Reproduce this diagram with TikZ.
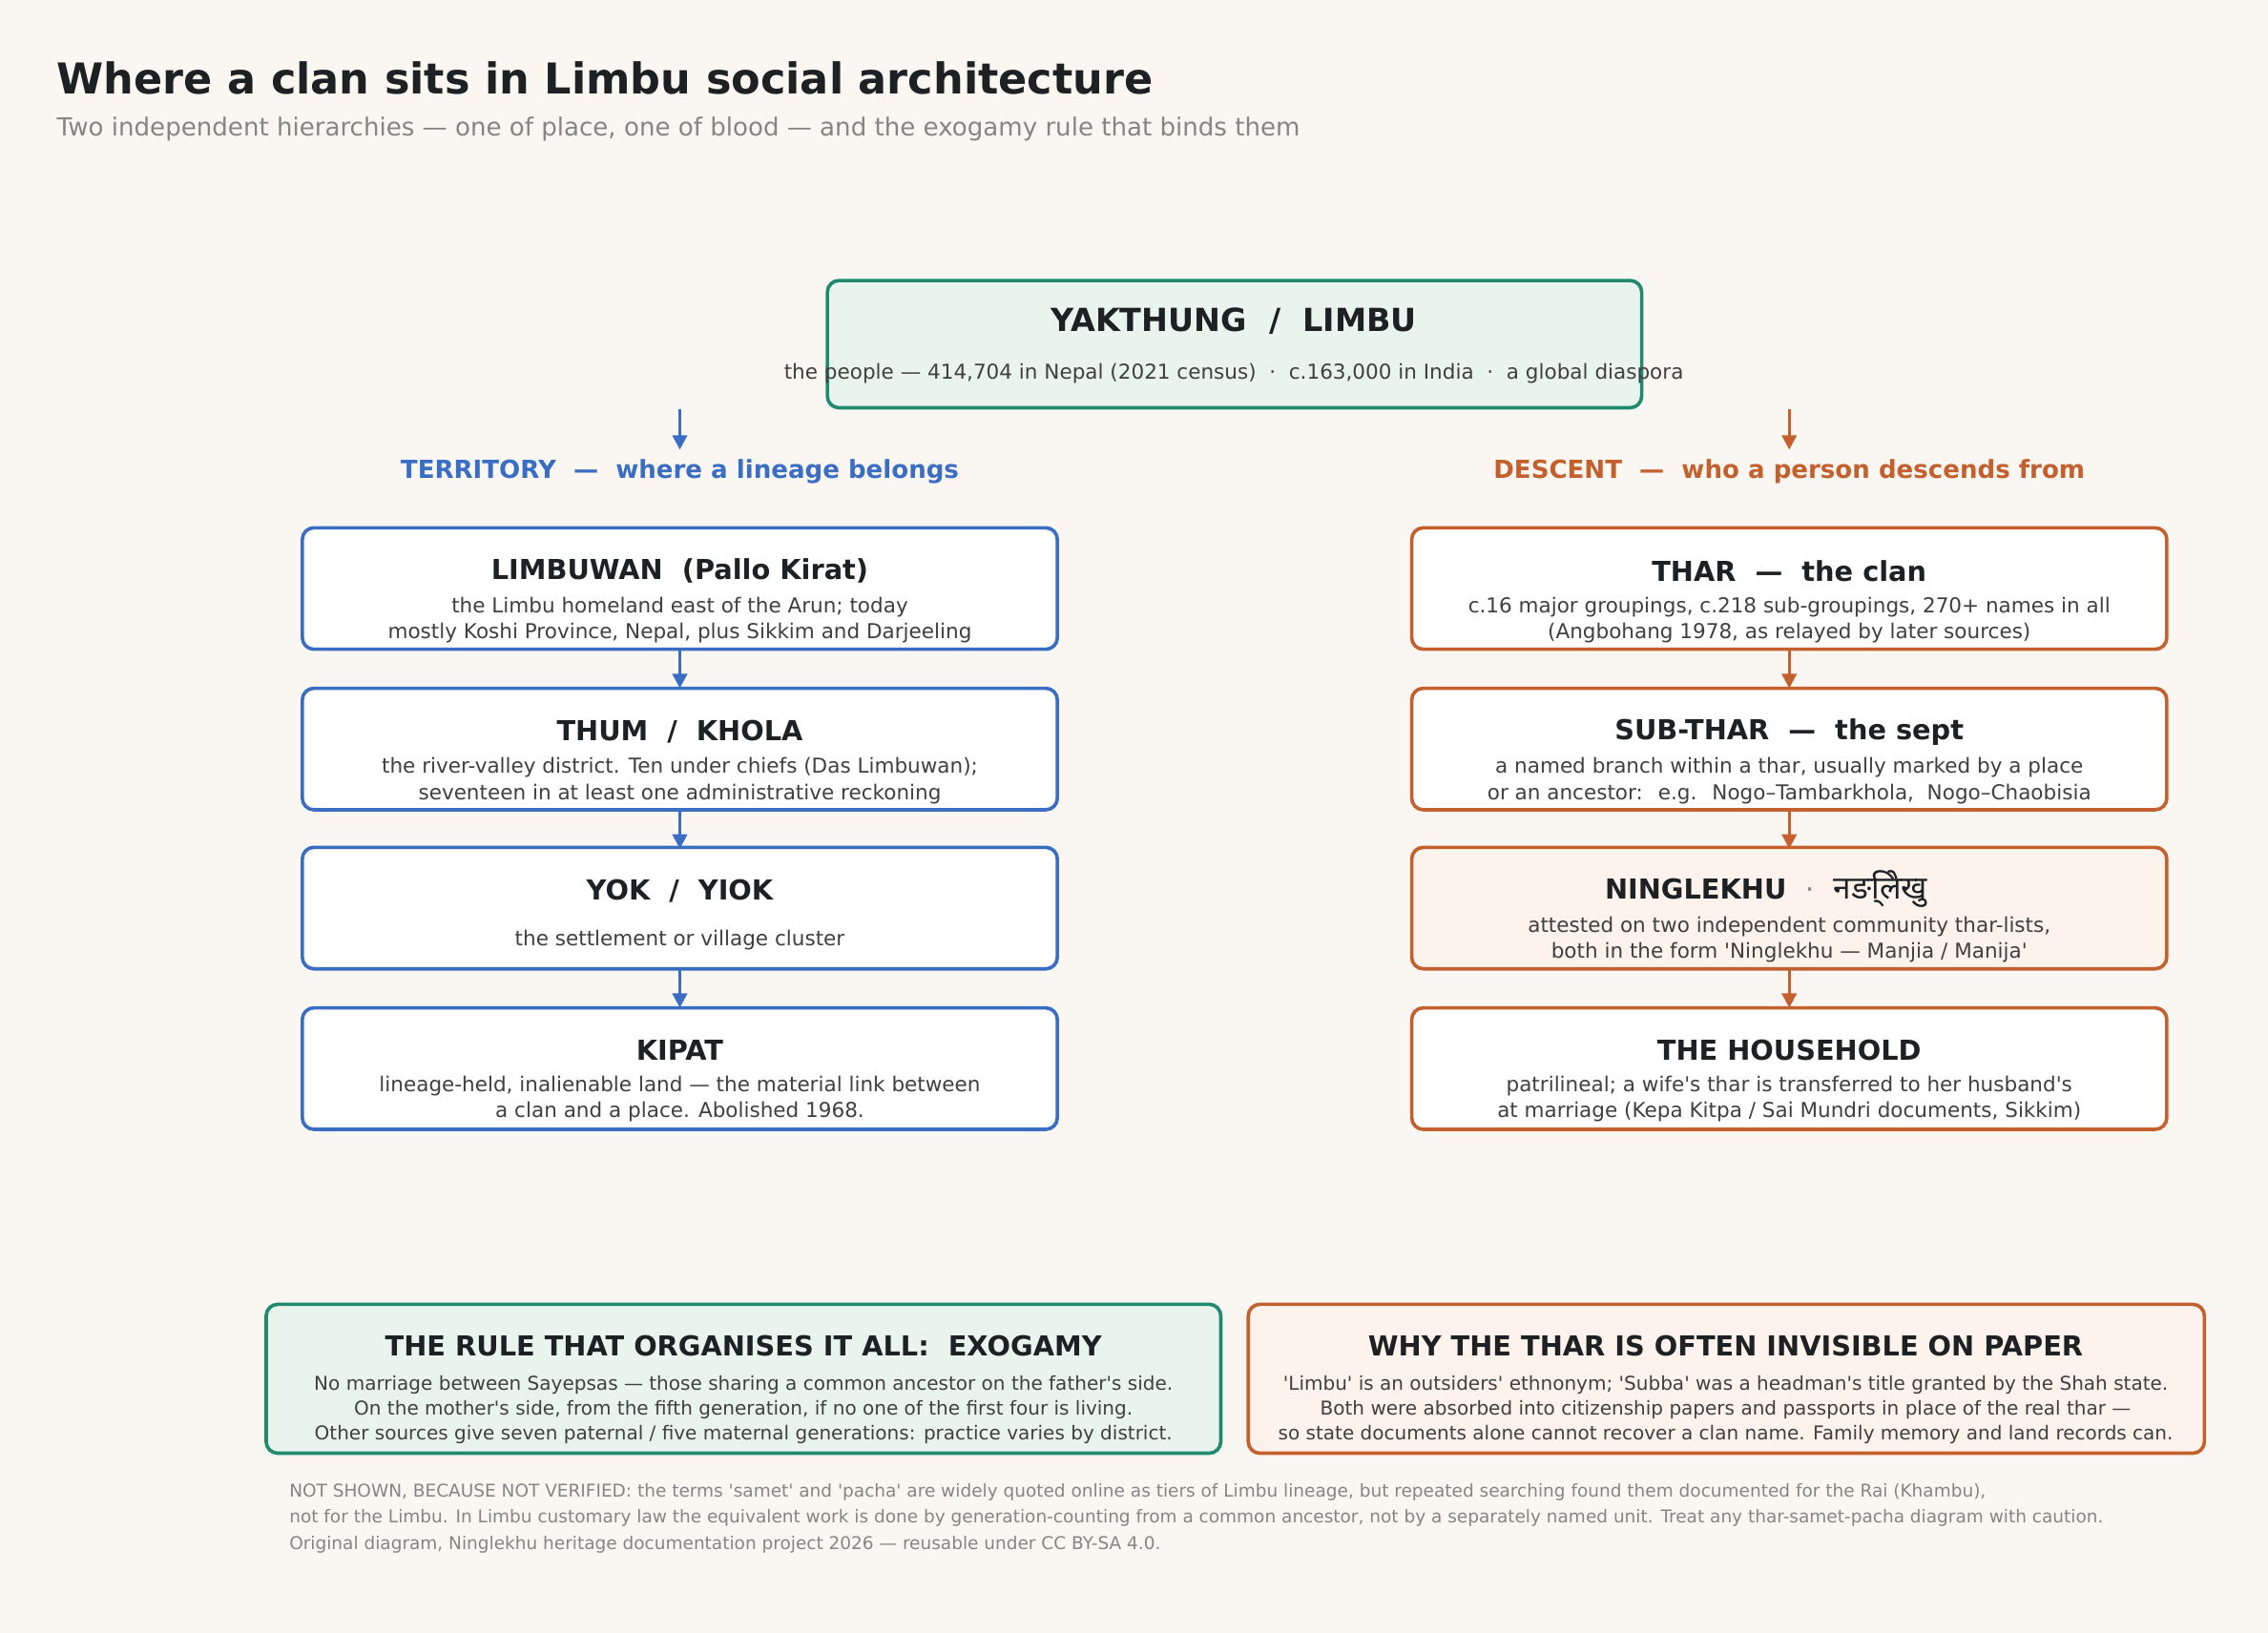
\documentclass[tikz,border=0pt]{standalone}
\usepackage{fontspec}
\setmainfont{DejaVu Sans}[Ligatures=TeXOff]
\newfontfamily\deva{Noto Sans}
\usetikzlibrary{arrows.meta}
\definecolor{bg}{HTML}{FAF7F2}
\definecolor{ink}{HTML}{1E2124}
\definecolor{body}{HTML}{404040}
\definecolor{grey}{HTML}{858585}
\definecolor{teal}{HTML}{1F8A6E}
\definecolor{terr}{HTML}{3A6EC4}
\definecolor{desc}{HTML}{C4602E}
\definecolor{tealfill}{HTML}{EAF4EF}
\definecolor{descfill}{HTML}{FDF2EC}
\tikzset{
  box/.style={draw, rounded corners=4pt, line width=1.2pt, fill=white},
  ttl/.style={font=\bfseries\fontsize{9.5}{11}\selectfont, text=ink},
  txt/.style={font=\fontsize{7.1}{9}\selectfont, text=body, align=center},
  arr/.style={-{Triangle[length=5pt,width=5pt]}, line width=1.1pt}
}
\begin{document}
\begin{tikzpicture}[x=0.5pt,y=-0.5pt]
\fill[bg] (0,0) rectangle (1568,1129);
\useasboundingbox (0,0) rectangle (1568,1129);

\node[anchor=west, inner sep=0pt, font=\bfseries\fontsize{14.7}{18}\selectfont, text=ink] (title) at (39,54)
{Where a clan sits in Limbu social architecture};
\node[anchor=west, inner sep=0pt, font=\fontsize{8.6}{10}\selectfont, text=grey] (subtitle) at (39,89)
{Two independent hierarchies — one of place, one of blood — and the exogamy rule that binds them};

% the people
\draw[box, draw=teal, fill=tealfill] (572,194) rectangle (1135,282);
\node[ttl, font=\bfseries\fontsize{11}{13}\selectfont] (people) at (853,222) {YAKTHUNG \ / \ LIMBU};
\node[txt] (peopletxt) at (853,258) {the people — 414,704 in Nepal (2021 census) \ · \ c.163,000 in India \ · \ a global diaspora};

\coordinate (tstart) at (470,283);
\coordinate (dstart) at (1237,283);
\node[font=\bfseries\fontsize{8.6}{10}\selectfont, text=terr] (territory) at (470,326) {TERRITORY \ — \ where a lineage belongs};
\node[font=\bfseries\fontsize{8.6}{10}\selectfont, text=desc] (descent) at (1237,326) {DESCENT \ — \ who a person descends from};
\draw[arr, terr] (tstart) -- (470,311);
\draw[arr, desc] (dstart) -- (1237,311);

% territory column
\foreach \n/\y in {t1/365,t2/476,t3/586,t4/697}
  \draw[box, draw=terr] (209,\y) rectangle (731,\y+84) coordinate (\n);
\node[ttl] (limbuwan) at (470,395) {LIMBUWAN \ (Pallo Kirat)};
\node[txt] (limbuwantxt) at (470,429) {the Limbu homeland east of the Arun; today\\mostly Koshi Province, Nepal, plus Sikkim and Darjeeling};
\node[ttl] (thum) at (470,506) {THUM \ / \ KHOLA};
\node[txt] (thumtxt) at (470,540) {the river-valley district. Ten under chiefs (Das Limbuwan);\\seventeen in at least one administrative reckoning};
\node[ttl] (yok) at (470,616) {YOK \ / \ YIOK};
\node[txt] (yoktxt) at (470,650) {the settlement or village cluster};
\node[ttl] (kipat) at (470,726) {KIPAT};
\node[txt] (kipattxt) at (470,760) {lineage-held, inalienable land — the material link between\\a clan and a place. Abolished 1968.};

% descent column
\foreach \n/\y in {d1/365,d2/476,d4/697}
  \draw[box, draw=desc] (976,\y) rectangle (1498,\y+84) coordinate (\n);
\draw[box, draw=desc, fill=descfill] (976,586) rectangle (1498,670);
\node[ttl] (thar) at (1237,395) {THAR \ — \ the clan};
\node[txt] (thartxt) at (1237,429) {c.16 major groupings, c.218 sub-groupings, 270+ names in all\\(Angbohang 1978, as relayed by later sources)};
\node[ttl] (subthar) at (1237,506) {SUB-THAR \ — \ the sept};
\node[txt] (subthartxt) at (1237,540) {a named branch within a thar, usually marked by a place\\or an ancestor: \ e.g. \ Nogo–Tambarkhola, \ Nogo–Chaobisia};
\node[ttl] (ninglekhu) at (1221,615) {NINGLEKHU \ {\mdseries\color{grey}·} \ {\deva\mdseries\fontsize{11}{13}\selectfont नङि्लेखु}};
\node[txt] (ninglekhutxt) at (1237,650) {attested on two independent community thar-lists,\\both in the form 'Ninglekhu — Manjia / Manija'};
\node[ttl] (household) at (1237,726) {THE HOUSEHOLD};
\node[txt] (householdtxt) at (1237,760) {patrilineal; a wife's thar is transferred to her husband's\\at marriage (Kepa Kitpa / Sai Mundri documents, Sikkim)};

\foreach \y in {449,560,670}{
  \draw[arr, terr] (470,\y) -- (470,\y+27);
  \draw[arr, desc] (1237,\y) -- (1237,\y+27);
}

% bottom notes
\draw[box, draw=teal, fill=tealfill] (184,902) rectangle (844,1005);
\draw[box, draw=desc, fill=descfill] (863,902) rectangle (1524,1005);
\node[ttl] (rule) at (514,931) {THE RULE THAT ORGANISES IT ALL: \ EXOGAMY};
\node[txt, font=\fontsize{6.6}{8.7}\selectfont] (ruletxt) at (514,975) {No marriage between Sayepsas — those sharing a common ancestor on the father's side.\\On the mother's side, from the fifth generation, if no one of the first four is living.\\Other sources give seven paternal / five maternal generations: practice varies by district.};
\node[ttl] (why) at (1193,931) {WHY THE THAR IS OFTEN INVISIBLE ON PAPER};
\node[txt, font=\fontsize{6.6}{8.7}\selectfont] (whytxt) at (1193,975) {'Limbu' is an outsiders' ethnonym; 'Subba' was a headman's title granted by the Shah state.\\Both were absorbed into citizenship papers and passports in place of the real thar —\\so state documents alone cannot recover a clan name. Family memory and land records can.};

\node[anchor=north west, align=left, text=grey, font=\fontsize{6.1}{9}\selectfont] (footnote) at (193,1019)
{NOT SHOWN, BECAUSE NOT VERIFIED: the terms 'samet' and 'pacha' are widely quoted online as tiers of Limbu lineage, but repeated searching found them documented for the Rai (Khambu),\\not for the Limbu. In Limbu customary law the equivalent work is done by generation-counting from a common ancestor, not by a separately named unit. Treat any thar-samet-pacha diagram with caution.\\Original diagram, Ninglekhu heritage documentation project 2026 — reusable under CC BY-SA 4.0.};
\end{tikzpicture}
\end{document}
